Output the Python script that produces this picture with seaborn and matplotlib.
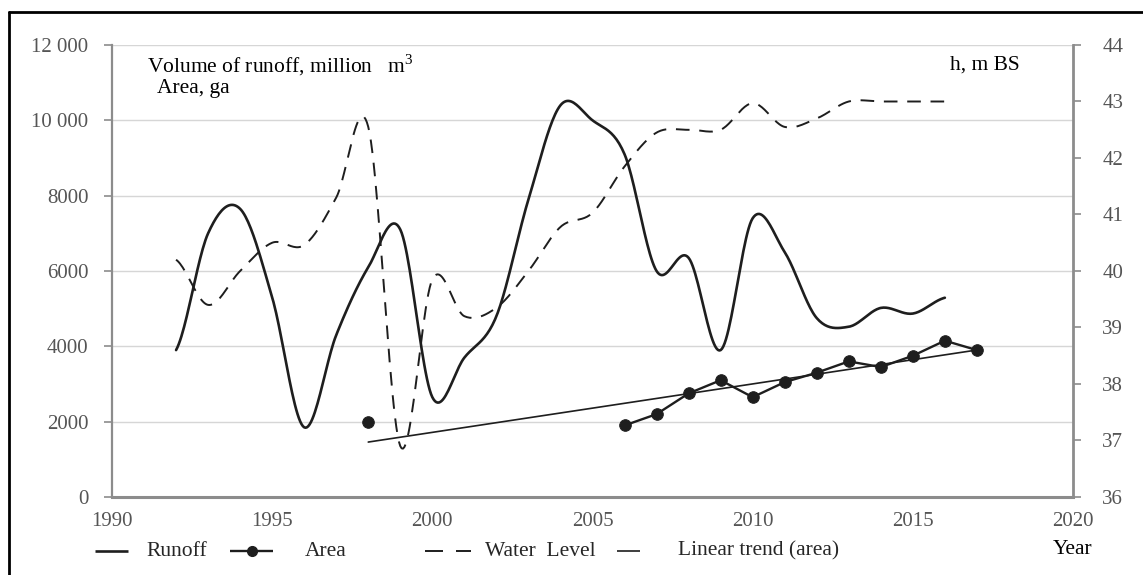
import numpy as np
import pandas as pd
import matplotlib
matplotlib.use("Agg")
import matplotlib.pyplot as plt
from matplotlib.lines import Line2D
import seaborn as sns

# ---- data ----
years = list(range(1992, 2017))
runoff = [3900, 7000, 7650, 5300, 1850, 4300, 6100, 7100, 2650, 3700, 4800,
          7900, 10400, 10000, 9100, 6000, 6350, 3900, 7400, 6500, 4750,
          4520, 5020, 4870, 5290]
water_level = [40.2, 39.4, 40.0, 40.5, 40.46, 41.3, 42.55, 36.9, 39.85, 39.2,
               39.35, 40.0, 40.78, 41.03, 41.85, 42.45, 42.5, 42.5, 42.97,
               42.55, 42.7, 43.0, 43.0, 43.0, 43.0]
area_years = [1998, 2006, 2007, 2008, 2009, 2010, 2011, 2012, 2013, 2014, 2015, 2016, 2017]
area = [2000, 1900, 2200, 2750, 3100, 2650, 3050, 3300, 3600, 3450, 3750, 4150, 3900]

left_ticks = [0, 2000, 4000, 6000, 8000, 10000, 12000]
left_labels = ["0", "2000", "4000", "6000", "8000", "10 000", "12 000"]
right_ticks = [36, 37, 38, 39, 40, 41, 42, 43, 44]
year_ticks = [1990, 1995, 2000, 2005, 2010, 2015, 2020]
legend_labels = ["Runoff", "Area", "Water  Level", "Linear trend (area)"]

W, H = 1143, 575


def fx(x):
    return x / W


def fy(y):
    return 1 - y / H


def smooth_curve(x, y, steps=24):
    """Catmull-Rom style smoothing used for the 'smoothed line' look."""
    x = np.asarray(x, float)
    y = np.asarray(y, float)
    n = len(y)
    xs, ys = [], []
    for i in range(n - 1):
        p0 = y[i - 1] if i > 0 else y[i]
        p1, p2 = y[i], y[i + 1]
        p3 = y[i + 2] if i + 2 < n else y[i + 1]
        m1 = (p2 - p0) / 2.0
        m2 = (p3 - p1) / 2.0
        t = np.linspace(0, 1, steps, endpoint=(i == n - 2))
        h00 = 2 * t**3 - 3 * t**2 + 1
        h10 = t**3 - 2 * t**2 + t
        h01 = -2 * t**3 + 3 * t**2
        h11 = t**3 - t**2
        ys.append(h00 * p1 + h10 * m1 + h01 * p2 + h11 * m2)
        xs.append(x[i] + t * (x[i + 1] - x[i]))
    return np.concatenate(xs), np.concatenate(ys)


sns.set_theme(style="white")
plt.rcParams["font.family"] = ["Liberation Serif", "DejaVu Serif"]
plt.rcParams["axes.unicode_minus"] = False
plt.rcParams["mathtext.fontset"] = "custom"
plt.rcParams["mathtext.rm"] = "Liberation Serif"

fig = plt.figure(figsize=(W / 100, H / 100), dpi=100)
ax = fig.add_axes([fx(112), fy(497), (1073 - 112) / W, (497 - 45) / H])

line_col = "#1e1e1e"
grid_col = "#d6d6d6"
axis_col = "#8c8c8c"
tick_text = "#555555"
TICK_FS = 15
TEXT_FS = 15.5

# runoff (smoothed solid)
rx, ry = smooth_curve(years, runoff)
runoff_df = pd.DataFrame({"year": rx, "value": ry})
sns.lineplot(data=runoff_df, x="year", y="value", ax=ax, color=line_col,
             linewidth=1.9, sort=False, estimator=None)

# area (points joined only for consecutive years)
area_df = pd.DataFrame({"year": area_years, "area": area})
area_line = area_df.set_index("year").reindex(range(1998, 2018))
ax.plot(area_line.index, area_line["area"], color=line_col, linewidth=1.7)
sns.scatterplot(data=area_df, x="year", y="area", ax=ax, color=line_col,
                s=70, edgecolor=line_col, zorder=5)

# linear trend of area
coef = np.polyfit(area_years, area, 1)
trend_x = np.array([area_years[0], area_years[-1]])
ax.plot(trend_x, np.polyval(coef, trend_x), color=line_col, linewidth=1.2)

ax.set_xlim(1990, 2020)
ax.set_ylim(0, 12000)
ax.set_xticks(year_ticks)
ax.set_xticklabels([str(y) for y in year_ticks])
ax.set_yticks(left_ticks)
ax.set_yticklabels(left_labels)
ax.set_xlabel("")
ax.set_ylabel("")
ax.yaxis.grid(True, color=grid_col, linewidth=1.0)
ax.xaxis.grid(False)
ax.set_axisbelow(True)
ax.tick_params(axis="both", which="major", direction="out", length=6,
               width=1.2, color=axis_col, labelsize=TICK_FS, labelcolor=tick_text)
ax.tick_params(axis="y", pad=11)
ax.tick_params(axis="x", pad=5)
ax.spines["top"].set_visible(False)
ax.spines["bottom"].set_color(axis_col)
ax.spines["bottom"].set_linewidth(2.2)
ax.spines["left"].set_color(axis_col)
ax.spines["left"].set_linewidth(1.6)
ax.spines["right"].set_visible(False)

# water level on secondary axis
ax2 = ax.twinx()
wx, wy = smooth_curve(years, water_level)
ax2.plot(wx, wy, color=line_col, linewidth=1.4, dashes=(7, 5))
ax2.set_ylim(36, 44)
ax2.set_yticks(right_ticks)
ax2.set_yticklabels([str(v) for v in right_ticks])
ax2.grid(False)
ax2.tick_params(axis="y", direction="out", length=6, width=1.2, color=axis_col,
                labelsize=TICK_FS, labelcolor=tick_text, pad=15)
ax2.spines["top"].set_visible(False)
ax2.spines["left"].set_visible(False)
ax2.spines["bottom"].set_visible(False)
ax2.spines["right"].set_color(axis_col)
ax2.spines["right"].set_linewidth(2.0)

# axis captions
fig.text(fx(147), fy(65), "Volume of runoff, million   m$^3$",
         fontsize=TEXT_FS, color="black", va="center", ha="left")
fig.text(fx(157), fy(88), "Area, ga", fontsize=TEXT_FS, color="black",
         va="center", ha="left")
fig.text(fx(950), fy(65), "h, m BS", fontsize=TEXT_FS, color="black",
         va="center", ha="left")
fig.text(fx(1053), fy(550), "Year", fontsize=TEXT_FS, color="black",
         va="center", ha="left")

# legend row along the bottom
LEG_Y = 551


def swatch(x0, x1, lw=1.7, **kw):
    fig.add_artist(Line2D([fx(x0), fx(x1)], [fy(LEG_Y), fy(LEG_Y)],
                          transform=fig.transFigure, color=line_col,
                          linewidth=lw, solid_capstyle="butt", **kw))


swatch(95, 128, lw=1.9)
fig.text(fx(146), fy(LEG_Y), legend_labels[0], fontsize=TEXT_FS, va="center", ha="left")
swatch(230, 273, lw=1.7)
fig.add_artist(Line2D([fx(252)], [fy(LEG_Y)], transform=fig.transFigure,
                      marker="o", markersize=7, color=line_col, linestyle="none"))
fig.text(fx(305), fy(LEG_Y), legend_labels[1], fontsize=TEXT_FS, va="center", ha="left")
swatch(425, 443, lw=1.4)
swatch(456, 471, lw=1.4)
fig.text(fx(485), fy(LEG_Y), legend_labels[2], fontsize=TEXT_FS, va="center", ha="left")
swatch(617, 640, lw=1.2)
fig.text(fx(678), fy(LEG_Y), legend_labels[3], fontsize=TEXT_FS, va="center", ha="left")

# outer frame (top and left edges)
fig.add_artist(Line2D([fx(9), 1.0], [fy(12), fy(12)],
                      transform=fig.transFigure, color="black", linewidth=2))
fig.add_artist(Line2D([fx(9), fx(9)], [fy(12), 0.0],
                      transform=fig.transFigure, color="black", linewidth=2))

fig.savefig("out.png", dpi=100)
